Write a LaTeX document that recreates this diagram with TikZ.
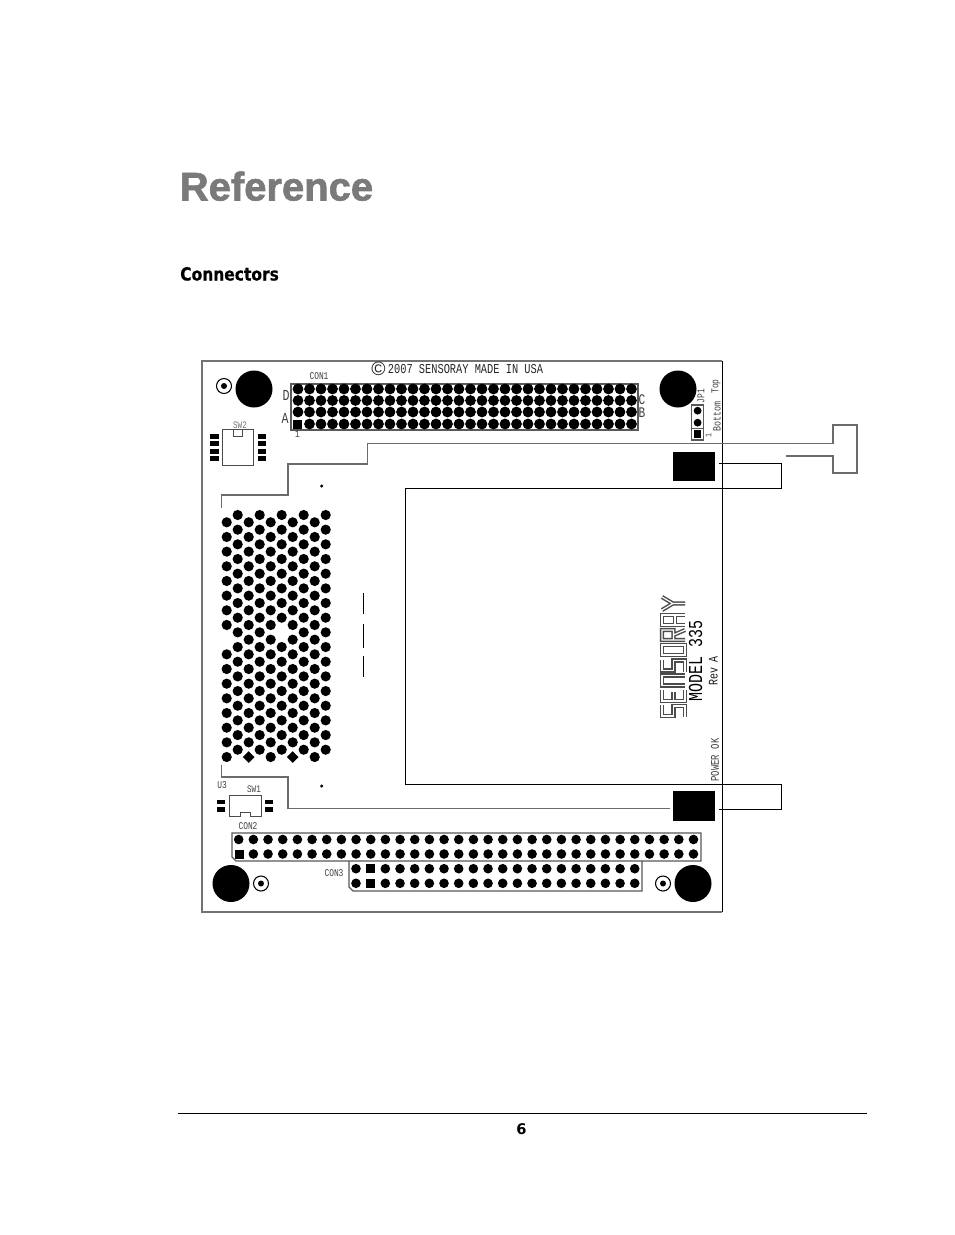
\documentclass[tikz,border=0pt]{standalone}
\usepackage{fontspec}
\newfontfamily\titlefont[FakeBold=1.5]{Liberation Sans Bold}
\newfontfamily\headfont[FakeStretch=.86, FakeBold=.4]{DejaVu Sans Bold}
\newfontfamily\pagefont{DejaVu Sans Bold}
\newfontfamily\pcbfont[FakeStretch=.76]{Liberation Mono}
\newfontfamily\markfont{Liberation Sans}
\tikzset{
    pcbtext/.style={font=\pcbfont\fontsize{#1}{#1}\selectfont, inner sep=0pt, text=black!75},
    traceline/.style={draw=black!58, line width=1.25pt},
    cutline/.style={draw=black, line width=.7pt},
    conbox/.style={draw=black!65, line width=1pt},
    pad/.style={fill=black},
    logostroke/.style={draw=black!70, line width=3.1pt, postaction={draw=white, line width=.9pt}}
}
\begin{document}
\begin{tikzpicture}[x=.75pt, y=-.75pt]
    \fill[white] (0,0) rectangle (954,1235);
    \useasboundingbox (0,0) rectangle (954,1235);
    % page
    \node[font=\titlefont\fontsize{30}{30}\selectfont, text=black!52, anchor=base west, inner sep=0pt] (title) at (179.5,200.5) {Reference};
    \node[font=\headfont\fontsize{13.5}{13.5}\selectfont, anchor=base west, inner sep=0pt] (section) at (180,280.5) {Connectors};
    \draw[black, line width=.7pt] (178,1113.5) -- (867,1113.5);
    \node[font=\pagefont\fontsize{11}{11}\selectfont, inner sep=0pt] (pagenum) at (521.5,1129) {6};
    % board
    \draw[black!55, line width=1.4pt] (722,361) -- (202,361) -- (202,912) -- (722,912);
    \draw[cutline] (722,361) -- (722,912);
    % holes
    \foreach \hx/\hy in {254/389, 678/389, 231/883.5, 693/883.5}
        \fill (\hx,\hy) circle (18.5);
    \foreach \hx/\hy in {224/386, 261/883.5, 663/883.5} {
        \draw[black, line width=.8pt] (\hx,\hy) circle (7.5);
        \fill (\hx,\hy) circle (3);
    }
    % CON1
    \draw[conbox] (291,384) rectangle (638,430);
    \foreach \c in {1,...,29} \fill (298+\c*11.5,424) circle (5.4);
    \foreach \y in {389,400.5,412} \foreach \c in {0,...,29}
        \fill (298+\c*11.5,\y) circle (5.4);
    \fill (292.5,420) rectangle (302,428.5);
    % CON2
    \draw[conbox] (236,861) -- (232,857) -- (232,833) -- (701,833) -- (701,861) -- cycle;
    \foreach \c in {0,...,31} \fill (238.7+\c*14.67,839.5) circle (4.8);
    \foreach \c in {1,...,31} \fill (238.7+\c*14.67,854) circle (4.8);
    \fill (234.5,849.5) rectangle (243.5,858.5);
    % CON3
    \draw[conbox] (349,861) -- (349,887) -- (353,891) -- (642,891) -- (642,861);
    \foreach \y in {868.7,883.3} {
        \fill (356,\y) circle (4.8);
        \foreach \c in {2,...,19} \fill (356+\c*14.67,\y) circle (4.8);
        \fill (366.2,\y-4.5) rectangle (375.2,\y+4.5);
    }
    % hex field
    \foreach \c/\rowlist in {0/{0,...,7,9,10,...,16}, 2/{0,...,15}, 4/{0,...,16}, 6/{0,...,15}, 8/{0,...,16}}
        \foreach \r in \rowlist \fill (226.7+\c*11,522.3+\r*14.67) circle (5.1);
    \foreach \c/\rowlist in {1/{0,...,16}, 3/{0,...,16}, 5/{0,...,7,9,10,...,16}, 7/{0,...,16}, 9/{0,...,16}}
        \foreach \r in \rowlist \fill (226.7+\c*11,515+\r*14.67) circle (5.1);
    \foreach \dx in {248.7,292.7}
        \fill (\dx-5.8,757) -- (\dx,751.2) -- (\dx+5.8,757) -- (\dx,762.8) -- cycle;
    % traces
    \draw[traceline] (221.5,508) -- (221.5,495) -- (288,495) -- (288,464) -- (367.5,464) -- (367.5,443.5)
        -- (833,443.5) -- (833,425) -- (857,425) -- (857,473) -- (833,473) -- (833,456) -- (786,456);
    \draw[cutline] (719,463.3) -- (781.5,463.3) -- (781.5,488) -- (405,488) -- (405,784.3)
        -- (781.5,784.3) -- (781.5,809) -- (719,809);
    \draw[traceline] (221.5,765) -- (221.5,777) -- (288,777) -- (288,808.5) -- (670,808.5);
    \fill (672.7,451.5) rectangle (714.7,481);
    \fill (672.7,791) rectangle (714.7,821);
    \foreach \y/\yy in {592.5/613.5, 624/648, 655.5/676.5}
        \draw[black, line width=.8pt] (363.5,\y) -- (363.5,\yy);
    \fill (321.7,486) circle (1.7);
    \fill (321.7,786) circle (1.7);
    % SW2
    \draw[black!70, line width=.6pt] (222.7,429) rectangle (253.5,465.5);
    \draw[black!70, line width=.6pt, fill=white] (233.5,429) rectangle (242.5,436.7);
    \foreach \y in {436.7,443.8,451,458.2} {
        \fill[pad] (209.5,\y-2.5) rectangle (219,\y+2.5);
        \fill[pad] (258,\y-2.5) rectangle (266,\y+2.5);
    }
    % SW1
    \draw[black!70, line width=.7pt] (229,795) -- (261,795) -- (261,816) -- (250,816) -- (250,812.5) -- (240,812.5) -- (240,816) -- (229,816) -- cycle;
    \foreach \y in {802,809.5} {
        \fill[pad] (216.7,\y-2.2) rectangle (225.3,\y+2.2);
        \fill[pad] (265,\y-2.2) rectangle (272.7,\y+2.2);
    }
    % JP1
    \draw[conbox] (691.7,405) rectangle (703.3,440);
    \draw[black!65, line width=.6pt] (691.7,428.5) -- (703.3,428.5);
    \fill (697.6,410.7) circle (3.9);
    \fill (697.6,422.7) circle (3.9);
    \fill (693.8,430.4) rectangle (701.4,438.2);
    % logo
    \begin{scope}[shift={(687,717)}, x={(0pt,.75pt)}, y={(-.75pt,0pt)}]
        \draw[logostroke] (12,25) -- (1,25) -- (1,13.5) -- (11,13.5) -- (11,2) -- (0,2);
        \draw[logostroke] (27,25) -- (16,25) -- (16,2) -- (27,2) (16,13.5) -- (25,13.5);
        \draw[logostroke] (31.5,2) -- (31.5,25) -- (41.5,25) -- (41.5,2);
        \draw[logostroke] (57.5,25) -- (46.5,25) -- (46.5,13.5) -- (56.5,13.5) -- (56.5,2) -- (45.5,2);
        \draw[logostroke] (62,2) rectangle (72,25);
        \draw[logostroke] (77,2) -- (77,25) -- (87,25) -- (87,13.5) -- (77,13.5) (82,13.5) -- (87,2);
        \draw[logostroke] (92,2) -- (92,25) -- (102,25) -- (102,2) (92,12) -- (102,12);
        \draw[logostroke] (107,25) -- (113.5,14) -- (120,25) (113.5,14) -- (113.5,2);
    \end{scope}
    % labels
    \node[font=\markfont\fontsize{14.5}{14.5}\selectfont, inner sep=0pt, text=black!85] (copymark) at (378.5,369) {\char"00A9};
    \node[pcbtext=10.2, text=black!85] (madein) at (465.5,369.5) {2007 SENSORAY MADE IN USA};
    \node[pcbtext=7.8] (conone) at (319,376) {CON1};
    \node[pcbtext=11.5] (rowd) at (286,395) {D};
    \node[pcbtext=11.5] (rowa) at (285,418) {A};
    \node[pcbtext=7.8] (pinone) at (297.5,434) {1};
    \node[pcbtext=11] (rowc) at (642,399.5) {C};
    \node[pcbtext=11] (rowb) at (642,412.5) {B};
    \node[pcbtext=7.5, text=black!55] (swtwo) at (240,425) {SW2};
    \node[pcbtext=7.8] (uthree) at (222,785) {U3};
    \node[pcbtext=7.5] (swone) at (254,789) {SW1};
    \node[pcbtext=7.8] (contwo) at (248,826) {CON2};
    \node[pcbtext=7.8] (conthree) at (334,873.5) {CON3};
    \node[pcbtext=7.8, rotate=90] (jpone) at (701,396) {JP1};
    \node[pcbtext=8.2, rotate=90] (bottom) at (717,416.5) {Bottom};
    \node[pcbtext=7.8, rotate=90] (top) at (716,386.5) {Top};
    \node[pcbtext=6.5, rotate=90] (jpmark) at (708.5,436) {1};
    \node[pcbtext=8.8, rotate=90] (powerok) at (715,760) {POWER OK};
    \node[pcbtext=14.8, rotate=90, text=black] (model) at (695.5,661) {MODEL 335};
    \node[pcbtext=9.8, rotate=90, text=black!90] (rev) at (713.5,671) {Rev A};
\end{tikzpicture}
\end{document}
